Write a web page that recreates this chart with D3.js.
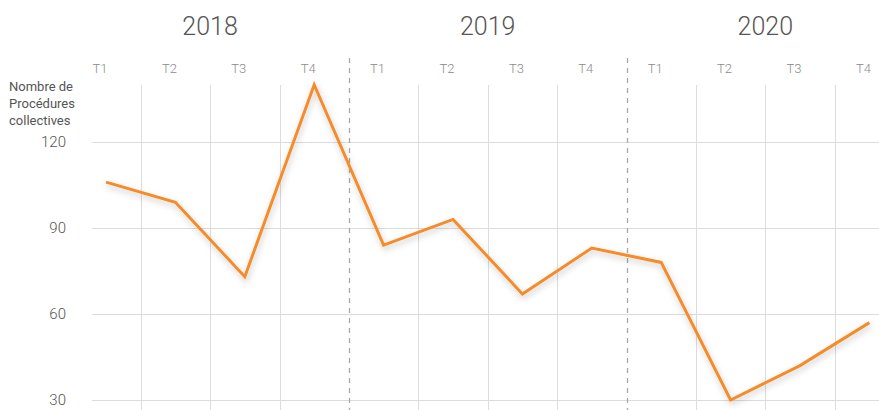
<!DOCTYPE html>
<html><head><meta charset="utf-8">
<script src="https://cdn.jsdelivr.net/npm/d3@7"></script>
<style>
html,body{margin:0;padding:0;background:#fff;}
svg{display:block;font-family:Roboto,"DejaVu Sans",sans-serif;}
</style></head>
<body><svg id="c" width="879" height="410"></svg>
<script>
const years = ["2018","2019","2020"];
const quarters = ["T1","T2","T3","T4"];
const values = [106, 99, 73, 140, 84, 93, 67, 83, 78, 30, 42, 57];
const yTicks = [30, 60, 90, 120];
const yTitle = ["Nombre de","Procédures","collectives"];

const svg = d3.select("#c");
const W = 879, H = 410;
const cats = [];
years.forEach(y => quarters.forEach(q => cats.push(y + "-" + q)));

const x = d3.scaleBand().domain(cats).range([71.3, 71.3 + 69.4 * cats.length]).padding(0);
const y = d3.scaleLinear().domain([30, 140]).range([400, 84.7]);

const defs = svg.append("defs");
const f = defs.append("filter").attr("id","sh").attr("x","-10%").attr("y","-10%").attr("width","120%").attr("height","130%");
f.append("feDropShadow").attr("dx",1).attr("dy",3).attr("stdDeviation",3).attr("flood-color","#000").attr("flood-opacity",0.22);

// horizontal gridlines
svg.append("g").selectAll("line").data(yTicks).join("line")
  .attr("x1", 92).attr("x2", W)
  .attr("y1", d => Math.round(y(d)) + 0.5).attr("y2", d => Math.round(y(d)) + 0.5)
  .attr("stroke", "#dcdcdc").attr("stroke-width", 1);

// y tick labels
svg.append("g").selectAll("text").data(yTicks).join("text")
  .attr("x", 66).attr("y", d => y(d)).attr("dy", "0.35em")
  .attr("text-anchor", "end").attr("font-size", 15).attr("font-weight", 300)
  .attr("fill", "#555").text(d => d);

// y title
svg.append("text").attr("font-size", 13).attr("fill", "#555").attr("font-weight", 400)
  .selectAll("tspan").data(yTitle).join("tspan")
  .attr("x", 9).attr("y", (d, i) => 91 + i * 17).text(d => d);

// vertical gridlines (between quarters)
const bounds = cats.slice(1).map((c, i) => ({pos: x(c), year: (i + 1) % 4 === 0}));
svg.append("g").selectAll("line").data(bounds).join("line")
  .attr("x1", d => Math.round(d.pos) + 0.5).attr("x2", d => Math.round(d.pos) + 0.5)
  .attr("y1", d => d.year ? 58 : 85).attr("y2", H)
  .attr("stroke", d => d.year ? "#a8a8a8" : "#dcdcdc")
  .attr("stroke-width", d => d.year ? 1.3 : 1)
  .attr("stroke-dasharray", d => d.year ? "5,5" : null);

// quarter labels
svg.append("g").selectAll("text").data(cats).join("text")
  .attr("x", d => x(d) + x.bandwidth() / 2 - 6).attr("y", 73)
  .attr("text-anchor", "middle").attr("font-size", 13).attr("font-weight", 300)
  .attr("fill", "#8a8a8a").text(d => d.split("-")[1]);

// year labels
svg.append("g").selectAll("text").data(years).join("text")
  .attr("x", d => (x(d + "-T1") + x(d + "-T4") + x.bandwidth()) / 2)
  .attr("y", 35).attr("text-anchor", "middle").attr("font-size", 25).attr("font-weight", 300)
  .attr("fill", "#555").text(d => d);

// line
const line = d3.line().x((d, i) => x(cats[i]) + x.bandwidth() / 2).y(d => y(d));
svg.append("path").datum(values).attr("d", line)
  .attr("fill", "none").attr("stroke", "#F68B2B").attr("stroke-width", 3)
  .attr("stroke-linejoin", "miter").attr("filter", "url(#sh)");
</script></body></html>
